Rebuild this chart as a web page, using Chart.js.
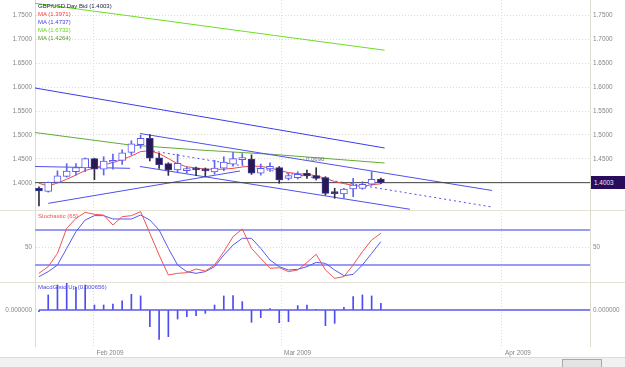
<!DOCTYPE html>
<html>
<head>
<meta charset="utf-8">
<script src="https://cdn.jsdelivr.net/npm/chart.js@4.4.1/dist/chart.umd.min.js"></script>
<style>
  body { margin: 0; background: #fff; font-family: "Liberation Sans", Arial, sans-serif; }
  #wrap { position: relative; width: 625px; height: 367px; overflow: hidden; background: #fff; }
  canvas { position: absolute; left: 0; }
  .lbl { position: absolute; font-size: 6px; line-height: 8px; white-space: nowrap; }
  .sep { position: absolute; left: 0; width: 625px; height: 1px; background: #e6e2d6; }
  #lastBox { position: absolute; left: 591px; width: 31px; height: 13px; padding-left: 3px;
             background: #2a0c5c; color: #e8e8ff; font-size: 6.4px; line-height: 13px; }
  #scroll { position: absolute; left: 0; top: 357px; width: 625px; height: 10px; background: #f1f1f1; border-top: 1px solid #dcdcdc; }
  #thumb { position: absolute; left: 562px; top: 1px; width: 38px; height: 7px; background: #e4e4e4; border: 1px solid #a8a8a8; }
</style>
</head>
<body>
<div id="wrap">
  <div class="sep" style="top:210px"></div>
  <div class="sep" style="top:282px"></div>
  <canvas id="cPrice" width="625" height="210" style="top:0"></canvas>
  <canvas id="cStoch" width="625" height="72" style="top:210px"></canvas>
  <canvas id="cMacd" width="625" height="75" style="top:282px"></canvas>

  <div class="lbl" style="left:38px;top:1.5px;color:#1c1c40">GBP/USD Day Bid (1.4003)</div>
  <div class="lbl" style="left:38px;top:9.5px;color:#f03c3c">MA (1.3971)</div>
  <div class="lbl" style="left:38px;top:17.5px;color:#4040e8">MA (1.4737)</div>
  <div class="lbl" style="left:38px;top:25.5px;color:#66d61e">MA (1.6732)</div>
  <div class="lbl" style="left:38px;top:33.5px;color:#5a9a30">MA (1.4264)</div>
  <div class="lbl" style="left:306px;top:155px;color:#70709a">0.0690</div>
  <div class="lbl" style="left:38px;top:211.5px;color:#f05050">Stochastic (65)</div>
  <div class="lbl" style="left:38px;top:283px;color:#4a4ae0">MacdGisto Up (0.000656)</div>
  <div id="lastBox">1.4003</div>
  <div id="scroll"><div id="thumb"></div></div>
</div>

<script>
// daily GBP/USD bars, 23 Jan - 17 Mar 2009
const opens  = [1.3885, 1.3820, 1.4010, 1.4135, 1.4232, 1.4310, 1.4505, 1.4285, 1.4430, 1.4470,
                1.4635, 1.4800, 1.4931, 1.4520, 1.4400, 1.4268, 1.4253, 1.4290, 1.4275, 1.4225,
                1.4305, 1.4390, 1.4485, 1.4495, 1.4199, 1.4290, 1.4316, 1.4094, 1.4107, 1.4199,
                1.4149, 1.4107, 1.3785, 1.3766, 1.3870, 1.3885, 1.3969, 1.4080];
const highs  = [1.3915, 1.4015, 1.4250, 1.4400, 1.4400, 1.4520, 1.4515, 1.4546, 1.4600, 1.4690,
                1.4880, 1.4995, 1.5010, 1.4617, 1.4420, 1.4600, 1.4330, 1.4330, 1.4310, 1.4470,
                1.4546, 1.4640, 1.4610, 1.4585, 1.4393, 1.4420, 1.4340, 1.4200, 1.4232, 1.4268,
                1.4316, 1.4128, 1.3885, 1.3885, 1.4094, 1.4023, 1.4232, 1.4100];
const lows   = [1.3515, 1.3805, 1.4000, 1.4120, 1.4160, 1.4232, 1.4065, 1.4163, 1.4285, 1.4387,
                1.4582, 1.4722, 1.4460, 1.4303, 1.4155, 1.4230, 1.4200, 1.4149, 1.4128, 1.4180,
                1.4250, 1.4350, 1.4380, 1.4175, 1.4160, 1.4240, 1.3990, 1.4059, 1.4080, 1.4094,
                1.4059, 1.3745, 1.3676, 1.3676, 1.3710, 1.3864, 1.3948, 1.3980];
const closes = [1.3828, 1.4010, 1.4145, 1.4247, 1.4320, 1.4505, 1.4285, 1.4456, 1.4445, 1.4625,
                1.4815, 1.4931, 1.4513, 1.4380, 1.4268, 1.4408, 1.4295, 1.4268, 1.4250, 1.4310,
                1.4435, 1.4505, 1.4495, 1.4199, 1.4303, 1.4345, 1.4059, 1.4149, 1.4178, 1.4142,
                1.4094, 1.3780, 1.3775, 1.3870, 1.3954, 1.3969, 1.4073, 1.4003];

// short moving average (red), one value per bar
const maFast = [1.3990, 1.3933, 1.3996, 1.4073, 1.4163, 1.4257, 1.4310, 1.4372, 1.4425, 1.4487,
                1.4561, 1.4653, 1.4670, 1.4613, 1.4508, 1.4397, 1.4335, 1.4310, 1.4289, 1.4280,
                1.4285, 1.4303, 1.4331, 1.4351, 1.4343, 1.4310, 1.4259, 1.4215, 1.4190, 1.4180,
                1.4146, 1.4096, 1.4025, 1.3983, 1.3944, 1.3927, 1.3958, 1.3979];
// long moving averages, read at a few bar positions
const maX        = [-0.43, 9.85, 17.4, 25.5, 37.4];
const maBlue     = [1.5983, 1.5642, 1.5391, 1.5123, 1.4728];
const maLime     = [1.7755, 1.7490, 1.7293, 1.7082, 1.6774];
const maOlive    = [1.5052, 1.4791, 1.4686, 1.4592, 1.4414];

// drawn trend lines: [bar, price] end points
const chanTop  = [[10.93, 1.5031], [49.03, 1.3839]];
const chanMid  = [[12.34, 1.4665], [49.03, 1.3494]];
const chanLow  = [[10.93, 1.4341], [40.15, 1.3446]];
const flatLine = [[-0.43, 1.4341], [9.85, 1.4303]];
const riseLine = [[1.0, 1.3570], [21.75, 1.4247]];

const stochK = [20.5, 28.1, 43.3, 71.9, 83.3, 90.2, 87.9, 87.1, 75.7, 85.2,
                86.4, 91.0, 66.2, 41.4, 18.6, 20.5, 21.2, 25.4, 23.1, 30.0,
                45.2, 62.4, 71.1, 49.0, 37.6, 26.2, 26.9, 22.4, 24.3, 33.0,
                42.2, 24.3, 14.8, 16.7, 30.0, 45.2, 58.6, 66.2];
const stochD = [16.7, 22.4, 30.0, 49.0, 68.1, 81.4, 86.4, 86.4, 82.6, 82.6,
                82.6, 87.1, 81.4, 70.0, 49.0, 30.0, 22.4, 20.5, 22.4, 28.1,
                41.4, 52.8, 60.5, 60.5, 49.0, 35.7, 28.1, 24.3, 25.0, 28.1,
                33.0, 31.9, 24.3, 17.8, 19.3, 30.0, 43.3, 56.7];
const stochLevels = [70, 30];

const macdHist = [-0.00016, 0.00148, 0.00246, 0.00262, 0.00223, 0.00246, 0.00049, 0.00049, 0.00059, 0.00089,
                  0.00154, 0.00138, -0.00164, -0.00289, -0.00262, -0.00089, -0.00066, -0.00056, -0.00033, 0.00049,
                  0.00138, 0.00141, 0.00082, -0.00121, -0.00075, 0.00013, -0.00125, -0.00115, 0.00043, 0.00049,
                  0.00007, -0.00154, -0.00131, 0.00026, 0.00131, 0.00148, 0.00138, 0.00066];

const priceTicksLeft  = [1.40, 1.45, 1.50, 1.55, 1.60, 1.65, 1.70, 1.75];
const priceTicksRight = [1.45, 1.50, 1.55, 1.60, 1.65, 1.70, 1.75];
const monthPos    = [5.9, 26.2, 50.1];
const monthLabels = ['Feb 2009', 'Mar 2009', 'Apr 2009'];

const X_MIN = -0.43, X_MAX = 59.63;
const GRID = '#dedbd0';
const TICK_FONT = { family: '"Liberation Sans", Arial, sans-serif', size: 6.4 };
const TICK_COLOR = '#858585';

Chart.defaults.animation = false;
Chart.defaults.responsive = false;
Chart.defaults.devicePixelRatio = 1;
Chart.defaults.plugins.legend.display = false;
Chart.defaults.plugins.tooltip.enabled = false;

const idx = opens.map((_, i) => i);
const isUp = i => closes[i] >= opens[i];
const pts = (xs, ys) => xs.map((x, k) => ({ x: x, y: ys[k] }));
const seg = s => s.map(p => ({ x: p[0], y: p[1] }));

function xAxis(showLabels) {
  return {
    type: 'linear', min: X_MIN, max: X_MAX, offset: false,
    afterBuildTicks: s => { s.ticks = monthPos.map(v => ({ value: v })); },
    afterFit: s => { s.height = showLabels ? 11 : 0; s.paddingLeft = 0; s.paddingRight = 0; },
    grid: { color: GRID, drawTicks: false, offset: false },
    border: { display: false, dash: [1, 2] },
    ticks: {
      display: showLabels, align: 'start', labelOffset: 3, padding: 3, maxRotation: 0, autoSkip: false,
      font: TICK_FONT, color: TICK_COLOR,
      callback: (v, i) => monthLabels[i]
    }
  };
}

function yAxis(pos, min, max, ticks, fmt, showGrid) {
  return {
    type: 'linear', position: pos, min: min, max: max,
    afterBuildTicks: s => { s.ticks = ticks.map(v => ({ value: v })); },
    afterFit: s => { s.width = 35; s.paddingTop = 0; s.paddingBottom = 0; },
    grid: { display: showGrid, color: GRID, drawTicks: false },
    border: { display: true, color: GRID, dash: [1, 2] },
    ticks: { padding: 3, font: TICK_FONT, color: TICK_COLOR, callback: fmt }
  };
}

const lineStyle = (color, extra) => Object.assign({
  type: 'line', borderColor: color, borderWidth: 1, pointRadius: 0, tension: 0, fill: false
}, extra || {});

// price panel
const priceChart = new Chart(document.getElementById('cPrice'), {
  type: 'bar',
  data: {
    datasets: [
      { data: idx.map(i => ({ x: i, y: [opens[i], closes[i]] })),
        backgroundColor: c => isUp(c.dataIndex) ? '#ffffff' : '#2b1a52',
        borderColor: c => isUp(c.dataIndex) ? '#5a5af2' : '#3a3a96',
        borderWidth: 1, borderSkipped: false, barThickness: 7, minBarLength: 2,
        grouped: false, order: 0 },
      { data: idx.map(i => ({ x: i, y: [lows[i], highs[i]] })),
        backgroundColor: c => isUp(c.dataIndex) ? '#6464f0' : '#2e2e40',
        barThickness: 1, grouped: false, order: 1 },
      lineStyle('#f04848', { data: idx.map(i => ({ x: i, y: maFast[i] })), order: 2 }),
      lineStyle('#404040', { data: [{ x: X_MIN, y: closes[closes.length - 1] }, { x: X_MAX, y: closes[closes.length - 1] }], order: 3 }),
      lineStyle('#5050ee', { data: seg(chanTop), order: 4 }),
      lineStyle('#5050ee', { data: seg(chanMid), borderDash: [2, 3], order: 4 }),
      lineStyle('#5050ee', { data: seg(chanLow), order: 4 }),
      lineStyle('#5050ee', { data: seg(flatLine), order: 4 }),
      lineStyle('#5050ee', { data: seg(riseLine), order: 4 }),
      lineStyle('#3c3cec', { data: pts(maX, maBlue), order: 5 }),
      lineStyle('#6cde22', { data: pts(maX, maLime), order: 5 }),
      lineStyle('#62aa38', { data: pts(maX, maOlive), order: 5 })
    ]
  },
  options: {
    layout: { padding: 0 },
    scales: {
      x: xAxis(false),
      y: yAxis('left', 1.3431, 1.7824, priceTicksLeft, v => v.toFixed(4), true),
      y2: yAxis('right', 1.3431, 1.7824, priceTicksRight, v => v.toFixed(4), false)
    }
  }
});

const lastY = priceChart.scales.y.getPixelForValue(closes[closes.length - 1]);
document.getElementById('lastBox').style.top = (lastY - 6.5) + 'px';

// stochastic panel
new Chart(document.getElementById('cStoch'), {
  type: 'line',
  data: {
    datasets: [
      lineStyle('#f05454', { data: idx.map(i => ({ x: i, y: stochK[i] })) }),
      lineStyle('#5858f0', { data: idx.map(i => ({ x: i, y: stochD[i] })) }),
      ...stochLevels.map(v => lineStyle('#9a9af8', { data: [{ x: X_MIN, y: v }, { x: X_MAX, y: v }], borderWidth: 2 }))
    ]
  },
  options: {
    layout: { padding: 0 },
    scales: {
      x: xAxis(false),
      y: yAxis('left', 10.57, 92.86, [50], v => String(v), true),
      y2: yAxis('right', 10.57, 92.86, [50], v => String(v), false)
    }
  }
});

// macd histogram panel
new Chart(document.getElementById('cMacd'), {
  type: 'bar',
  data: {
    datasets: [
      lineStyle('#5a5af0', { data: [{ x: 0, y: 0 }, { x: X_MAX, y: 0 }], borderWidth: 1.5, order: 1 }),
      { data: idx.map(i => ({ x: i, y: macdHist[i] })), backgroundColor: '#4c4cf0',
        barThickness: 1, grouped: false, order: 0 }
    ]
  },
  options: {
    layout: { padding: 0 },
    scales: {
      x: xAxis(true),
      y: yAxis('left', -0.003539, 0.002752, [0], v => v.toFixed(6), true),
      y2: yAxis('right', -0.003539, 0.002752, [0], v => v.toFixed(6), false)
    }
  }
});
</script>
</body>
</html>
